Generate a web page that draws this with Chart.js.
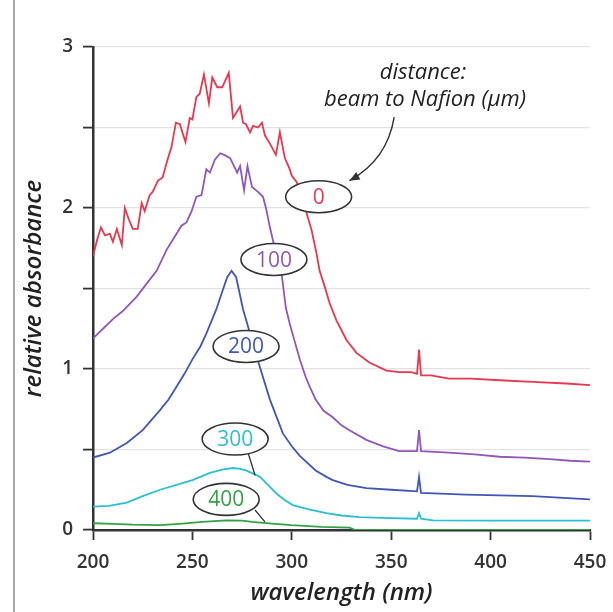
<!DOCTYPE html>
<html>
<head>
<meta charset="utf-8">
<script src="https://cdn.jsdelivr.net/npm/chart.js@4/dist/chart.umd.min.js"></script>
<style>
  html, body { margin: 0; padding: 0; background: #fff; }
  #wrap { width: 613px; height: 612px; position: relative; }
</style>
</head>
<body>
<div id="wrap"><canvas id="chart" width="613" height="612"></canvas></div>
<script>
// distance beam to Nafion: 0 um
const nm0 = [200, 202, 204, 206, 208.5, 210, 212, 214.5, 216, 218, 220, 222.5, 224.5, 226, 228.5, 230,
  232.7, 235, 237.5, 239.5, 241.7, 243.7, 246.5, 248.7, 250, 252, 253.7, 255.8, 258.3, 260, 262.5, 265,
  268.3, 270.4, 272, 274, 275.5, 277, 279, 280.5, 283, 285, 286.5, 289, 292, 294, 296.5, 299, 300, 302.5,
  305, 307.4, 310, 312.4, 314, 316.6, 319, 322.5, 327.5, 332.5, 339, 347.6, 354, 360, 363, 364, 365,
  370, 379, 390, 404.5, 421, 438, 450];
const abs0 = [1.70, 1.80, 1.88, 1.83, 1.84, 1.79, 1.87, 1.77, 2.00, 1.93, 1.87, 1.87, 2.03, 1.98, 2.08, 2.10,
  2.17, 2.19, 2.30, 2.38, 2.53, 2.52, 2.41, 2.56, 2.55, 2.69, 2.71, 2.83, 2.65, 2.81, 2.75, 2.75,
  2.84, 2.56, 2.59, 2.63, 2.53, 2.52, 2.47, 2.51, 2.50, 2.53, 2.45, 2.40, 2.33, 2.47, 2.31, 2.24, 2.20, 2.16,
  2.08, 1.97, 1.86, 1.72, 1.61, 1.51, 1.41, 1.30, 1.18, 1.10, 1.04, 0.99, 0.98, 0.98, 0.97, 1.12, 0.96,
  0.96, 0.94, 0.94, 0.93, 0.92, 0.91, 0.90];

// 100 um
const nm100 = [200, 205, 210, 215, 222, 227, 232, 237, 240, 244.5, 247, 249.6, 252, 254.6, 257, 258.8, 261.3,
  264, 266, 269, 272.5, 274, 276, 277.7, 280, 283, 285.5, 287, 289, 292, 295, 297, 299, 301.5, 304, 307,
  309, 312, 316, 320.6, 325, 329, 337.5, 346, 354, 363, 364, 365, 379, 392, 404.5, 417, 429.6, 440, 450];
const abs100 = [1.19, 1.25, 1.31, 1.36, 1.45, 1.53, 1.61, 1.74, 1.80, 1.89, 1.91, 1.98, 2.07, 2.08, 2.24, 2.22, 2.30,
  2.34, 2.33, 2.31, 2.22, 2.26, 2.11, 2.26, 2.13, 2.10, 2.07, 2.00, 1.88, 1.72, 1.58, 1.38, 1.28, 1.17, 1.06, 0.95,
  0.89, 0.81, 0.74, 0.70, 0.65, 0.62, 0.56, 0.52, 0.49, 0.49, 0.62, 0.49, 0.48, 0.47, 0.455, 0.45, 0.44, 0.43, 0.425];

// 200 um
const nm200 = [200, 208.5, 217, 225, 233.7, 238, 242, 246, 250, 254, 257, 262, 265, 267.5, 269.7, 272, 275.5,
  279, 284, 289, 295.5, 300, 304, 312, 317.4, 320.6, 328, 337.5, 350, 363, 364, 365, 387.7, 421, 450];
const abs200 = [0.45, 0.48, 0.54, 0.62, 0.745, 0.81, 0.89, 0.97, 1.06, 1.14, 1.22, 1.37, 1.48, 1.57, 1.61, 1.57, 1.37,
  1.22, 1.01, 0.81, 0.60, 0.52, 0.46, 0.37, 0.33, 0.31, 0.28, 0.26, 0.25, 0.24, 0.33, 0.23, 0.22, 0.21, 0.19];

// 300 um
const nm300 = [200, 208, 217, 225, 233.7, 242, 250, 258.8, 265, 270.4, 274, 277, 280.5, 284, 288, 292, 296,
  300.5, 308, 317.4, 325, 334, 345, 363, 364, 365, 371, 400, 450];
const abs300 = [0.145, 0.15, 0.17, 0.21, 0.25, 0.28, 0.31, 0.355, 0.375, 0.385, 0.38, 0.37, 0.35, 0.33, 0.28, 0.23, 0.19,
  0.155, 0.13, 0.105, 0.09, 0.08, 0.075, 0.07, 0.105, 0.07, 0.06, 0.058, 0.058];

// 400 um
const nm400 = [200, 210, 220, 233.7, 245, 255, 267, 275, 280, 290, 300, 315, 329, 332, 450];
const abs400 = [0.042, 0.038, 0.033, 0.03, 0.04, 0.05, 0.06, 0.058, 0.05, 0.04, 0.03, 0.02, 0.015, 0.0, 0.0];

const seriesNames = ["0", "100", "200", "300", "400"];
const seriesColors = ["#e8374f", "#9257b6", "#4256b4", "#2cbfd0", "#35a046"];

// label bubbles (data units: nm, absorbance)
const labelNm = [313.5, 291, 277, 271.5, 267];
const labelAbs = [2.07, 1.68, 1.14, 0.565, 0.19];

const xTicks = [200, 250, 300, 350, 400, 450];
const yTicks = [0, 1, 2, 3];

function pts(xs, ys) {
  return xs.map((x, i) => ({ x: x, y: ys[i] }));
}

const allNm = [nm0, nm100, nm200, nm300, nm400];
const allAbs = [abs0, abs100, abs200, abs300, abs400];

const font = "'Open Sans', Lato, sans-serif";
const dark = "#333";

const annotations = {
  id: "annotations",
  afterDatasetsDraw(chart) {
    const ctx = chart.ctx;
    const xs = chart.scales.x;
    const ys = chart.scales.y;
    ctx.save();

    // panel separator on the left
    ctx.strokeStyle = "#8a8a8a";
    ctx.lineWidth = 1.5;
    ctx.beginPath();
    ctx.moveTo(14, 0);
    ctx.lineTo(14, 612);
    ctx.stroke();

    // leader lines for 300 and 400
    ctx.strokeStyle = dark;
    ctx.lineWidth = 1.3;
    ctx.beginPath();
    ctx.moveTo(xs.getPixelForValue(278), ys.getPixelForValue(0.48));
    ctx.lineTo(xs.getPixelForValue(281.5), ys.getPixelForValue(0.34));
    ctx.moveTo(xs.getPixelForValue(281.5), ys.getPixelForValue(0.124));
    ctx.lineTo(xs.getPixelForValue(286.5), ys.getPixelForValue(0.05));
    ctx.stroke();

    // bubbles
    ctx.textAlign = "center";
    ctx.textBaseline = "middle";
    ctx.font = "21px " + font;
    seriesNames.forEach((name, i) => {
      const cx = xs.getPixelForValue(labelNm[i]);
      const cy = ys.getPixelForValue(labelAbs[i]);
      ctx.beginPath();
      ctx.ellipse(cx, cy, 33, 16, 0, 0, Math.PI * 2);
      ctx.fillStyle = "#fff";
      ctx.fill();
      ctx.strokeStyle = dark;
      ctx.lineWidth = 1.6;
      ctx.stroke();
      ctx.fillStyle = seriesColors[i];
      ctx.fillText(name, cx, cy + 1);
    });

    // legend note
    ctx.fillStyle = "#222";
    ctx.font = "italic 22px " + font;
    ctx.fillText("distance:", xs.getPixelForValue(366), ys.getPixelForValue(2.84));
    ctx.fillText("beam to Nafion (\u00b5m)", xs.getPixelForValue(367), ys.getPixelForValue(2.67));

    // curved arrow
    const ax0 = xs.getPixelForValue(351.5), ay0 = ys.getPixelForValue(2.565);
    const axc = xs.getPixelForValue(348), ayc = ys.getPixelForValue(2.30);
    const ax1 = xs.getPixelForValue(329), ay1 = ys.getPixelForValue(2.17);
    ctx.strokeStyle = "#333";
    ctx.lineWidth = 1.4;
    ctx.beginPath();
    ctx.moveTo(ax0, ay0);
    ctx.quadraticCurveTo(axc, ayc, ax1, ay1);
    ctx.stroke();
    const ang = Math.atan2(ay1 - ayc, ax1 - axc);
    ctx.fillStyle = "#333";
    ctx.beginPath();
    ctx.moveTo(ax1, ay1);
    ctx.lineTo(ax1 - 11 * Math.cos(ang - 0.4), ay1 - 11 * Math.sin(ang - 0.4));
    ctx.lineTo(ax1 - 11 * Math.cos(ang + 0.4), ay1 - 11 * Math.sin(ang + 0.4));
    ctx.closePath();
    ctx.fill();

    ctx.restore();
  },
};

new Chart(document.getElementById("chart").getContext("2d"), {
  type: "line",
  data: {
    datasets: seriesNames.map((name, i) => ({
      label: name,
      data: pts(allNm[i], allAbs[i]),
      borderColor: seriesColors[i],
      borderWidth: 1.8,
      pointRadius: 0,
      tension: 0,
      fill: false,
    })),
  },
  options: {
    responsive: false,
    animation: false,
    devicePixelRatio: 1,
    layout: { padding: { left: 0, right: 23, top: 47, bottom: 0 } },
    plugins: { legend: { display: false }, tooltip: { enabled: false } },
    scales: {
      x: {
        type: "linear",
        min: 200,
        max: 450,
        afterFit: (scale) => {
          scale.height = 82;
          scale.paddingLeft = 0;
          scale.paddingRight = 0;
        },
        afterBuildTicks: (scale) => { scale.ticks = xTicks.map((v) => ({ value: v })); },
        ticks: {
          color: dark,
          padding: 11,
          font: { family: font, size: 19, weight: "600" },
        },
        grid: { drawOnChartArea: false, tickLength: 10, tickColor: dark, tickWidth: 1.8 },
        border: { color: dark, width: 2.5 },
        title: {
          display: true,
          text: "wavelength (nm)",
          color: "#222",
          font: { family: font, size: 24, style: "italic", weight: "600" },
          padding: { top: 4, bottom: 4 },
        },
      },
      y: {
        min: 0,
        max: 3,
        afterFit: (scale) => {
          scale.width = 93;
          scale.paddingTop = 0;
          scale.paddingBottom = 0;
        },
        ticks: {
          stepSize: 0.5,
          color: dark,
          padding: 10,
          font: { family: font, size: 19, weight: "600" },
          callback: (v) => (yTicks.includes(v) ? String(v) : ""),
        },
        grid: {
          color: (c) => (c.tick && c.tick.value === 0 ? "rgba(0,0,0,0)" : "#e2e2e2"),
          lineWidth: 1.2,
          tickLength: 10,
          tickColor: dark,
          tickWidth: 1.8,
        },
        border: { color: dark, width: 2.5 },
        title: {
          display: true,
          text: "relative absorbance",
          color: "#222",
          font: { family: font, size: 24, style: "italic", weight: "600" },
          padding: { top: 20, bottom: 20 },
        },
      },
    },
  },
  plugins: [annotations],
});
</script>
</body>
</html>
